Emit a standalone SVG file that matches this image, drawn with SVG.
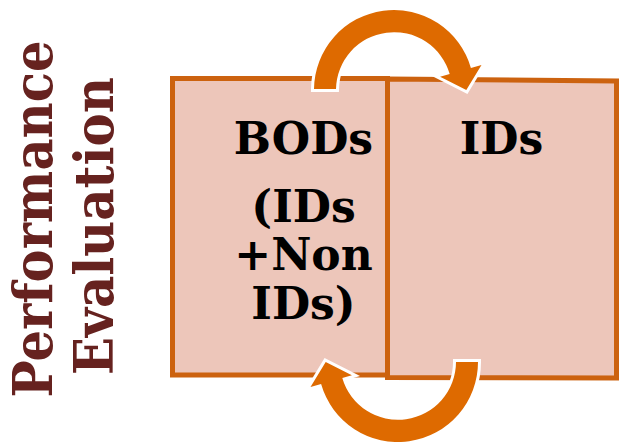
<svg xmlns="http://www.w3.org/2000/svg" width="621" height="442" viewBox="0 0 621 442">
  <style>
    .box { fill: #EDC6BA; stroke: #CC620F; stroke-width: 5; stroke-linejoin: miter; }
    .lbl { font-family: "DejaVu Serif", "Liberation Serif", serif; font-weight: bold; font-size: 44px; fill: #000; text-anchor: middle; }
    .side { font-family: "DejaVu Serif", "Liberation Serif", serif; font-weight: bold; font-size: 54px; fill: #66221F; text-anchor: middle; }
    .cyc { fill: #DE6A00; stroke: #FFFFFF; stroke-width: 6; stroke-linejoin: miter; paint-order: stroke; }
  </style>

  <!-- vertical title -->
  <g id="title">
    <text class="side" transform="translate(52 219) rotate(-90)" textLength="357" lengthAdjust="spacingAndGlyphs">Performance</text>
    <text class="side" transform="translate(113 226) rotate(-90)" textLength="298" lengthAdjust="spacingAndGlyphs">Evaluation</text>
  </g>

  <!-- left block: BODs -->
  <g id="bods">
    <rect class="box" x="172.5" y="78.5" width="215" height="296.5"/>
    <text class="lbl" x="303.5" y="154">BODs</text>
    <text class="lbl" x="303.5" y="222">(IDs</text>
    <text class="lbl" x="303.5" y="270">+Non</text>
    <text class="lbl" x="303.5" y="319">IDs)</text>
  </g>

  <!-- right block: IDs -->
  <g id="ids">
    <path class="box" d="M387.5 79 L616.5 81 L616.5 378 L387.5 377.5 Z"/>
    <text class="lbl" x="501.5" y="154">IDs</text>
  </g>

  <!-- cycle arrows between the two blocks -->
  <g id="connectors">
    <path class="cyc" d="M336 89 L314 89 A80 80 0 0 1 470.9 67.9 L481.5 64.9 L466.3 90 L440.1 76.8 L449.7 74 A58 58 0 0 0 336 89 Z"/>
    <path class="cyc" d="M456 362 L478 362 A80 80 0 0 1 321.1 384.1 L310.5 387.1 L325.7 362 L351.9 375.2 L342.3 378 A58 58 0 0 0 456 362 Z"/>
  </g>
</svg>
